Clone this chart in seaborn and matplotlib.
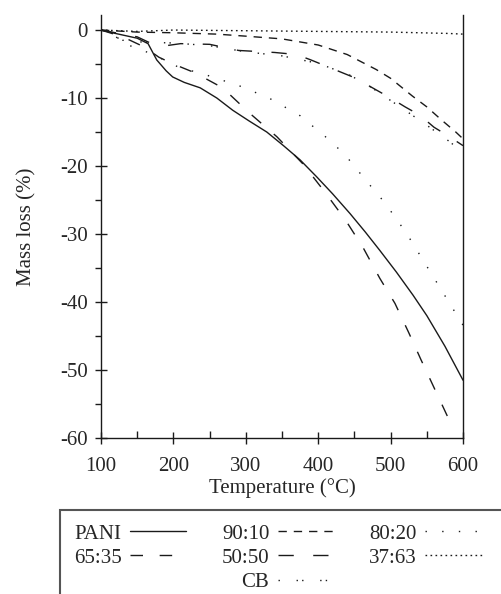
import numpy as np
import pandas as pd
import matplotlib
matplotlib.use('Agg')
import matplotlib.pyplot as plt
from matplotlib.lines import Line2D
from matplotlib.patches import Rectangle
import seaborn as sns

sns.set_style('ticks')
plt.rcParams['font.family'] = ['Liberation Serif', 'DejaVu Serif']
plt.rcParams['axes.unicode_minus'] = False  # hyphen minus like the original
plt.rcParams['font.size'] = 15

# 시료별 질량 감소 곡선
pani_t = [100, 120, 150, 165, 177, 190, 199, 215, 237, 260, 282, 305, 329, 352, 375, 398, 420, 444, 465, 485, 508, 531, 550, 575, 600]
pani_m = [0, -0.5, -1.2, -2.0, -4.4, -6.0, -6.9, -7.7, -8.5, -10.0, -11.8, -13.4, -15.0, -17.0, -19.1, -21.6, -24.1, -27.0, -29.7, -32.4, -35.6, -39.0, -42.0, -46.5, -51.5]

s9010_t = [100, 150, 200, 260, 300, 350, 400, 440, 460, 480, 500, 530, 550, 570, 590, 600]
s9010_m = [0, -0.3, -0.4, -0.6, -0.9, -1.3, -2.2, -3.6, -4.7, -5.8, -7.1, -9.7, -11.3, -13.2, -15.0, -16.0]

s8020_t = [100, 130, 140, 170, 206, 248, 291, 332, 375, 418, 439, 465, 492, 522, 548, 574, 600]
s8020_m = [0, -1.5, -2.3, -3.5, -5.4, -6.7, -8.2, -10.0, -12.6, -16.4, -18.6, -22.0, -25.4, -29.9, -34.4, -38.9, -43.4]

s6535_t = [100, 130, 160, 180, 200, 230, 268, 305, 343, 379, 409, 438, 462, 485, 506, 525, 542, 560, 578, 585]
s6535_m = [0, -1.0, -2.5, -4.0, -5.0, -6.3, -8.5, -12.2, -15.7, -19.7, -23.8, -28.0, -32.0, -36.5, -40.2, -44.5, -48.5, -52.6, -56.7, -58.0]

s5050_t = [100, 150, 170, 190, 210, 250, 290, 340, 370, 390, 420, 450, 475, 500, 520, 540, 560, 580, 600]
s5050_m = [0, -1.0, -2.0, -2.3, -2.0, -2.1, -3.0, -3.3, -3.6, -4.4, -5.7, -7.0, -8.5, -10.0, -11.3, -12.5, -14.3, -15.6, -17.0]

s3763_t = [100, 150, 200, 300, 400, 500, 580, 600]
s3763_m = [0, -0.2, 0, -0.1, -0.2, -0.3, -0.5, -0.6]

cb_t = [100, 130, 160, 200, 250, 300, 350, 400, 443, 470, 495, 520, 550, 580, 600]
cb_m = [0, -1.5, -1.8, -1.9, -2.3, -3.2, -3.8, -4.9, -6.6, -8.2, -10.0, -11.8, -14.0, -16.3, -18.0]

series = [
    ('PANI', pani_t, pani_m, '-'),
    ('90:10', s9010_t, s9010_m, (0, (6, 5))),
    ('80:20', s8020_t, s8020_m, (0, (1, 11))),
    ('65:35', s6535_t, s6535_m, (0, (9, 12))),
    ('50:50', s5050_t, s5050_m, (0, (11, 14))),
    ('37:63', s3763_t, s3763_m, (0, (1.2, 2.4))),
    ('CB', cb_t, cb_m, (0, (1, 12, 1, 3))),
]

fig = plt.figure(figsize=(5.01, 5.94), dpi=100)
ax = fig.add_axes([0.2016, 0.2626, 0.7226, 0.712])

handles = {}
for name, t, m, ls in series:
    sns.lineplot(x=t, y=m, ax=ax, color='#1a1a1a', lw=1.0, linestyle=ls, sort=False)
    handles[name] = ax.get_lines()[-1]

ax.set_xlim(100, 600)
ax.set_ylim(-60, 2.2)
ax.set_xticks(np.arange(100, 601, 100))
ax.set_xticks(np.arange(150, 600, 100), minor=True)
ax.set_yticks(np.arange(-60, 1, 10))
ax.set_yticks(np.arange(-55, 0, 10), minor=True)
ax.spines['top'].set_visible(False)
for s in ['left', 'right', 'bottom']:
    ax.spines[s].set_linewidth(1.0)
    ax.spines[s].set_color('#1a1a1a')
ax.tick_params(which='major', direction='inout', length=9, width=1, color='#1a1a1a', pad=5)
ax.tick_params(axis='x', which='major', pad=9)
ax.tick_params(which='minor', direction='in', length=5, width=1, color='#1a1a1a')
ax.tick_params(axis='y', which='minor', direction='out', length=4)
ax.set_xlabel('Temperature (°C)', labelpad=2)
ax.set_ylabel('Mass loss (%)', labelpad=17)

# 범례 상자
fig.patches.append(Rectangle((60 / 501, -0.5), 1.2, 0.5 + 1 - 510 / 594, transform=fig.transFigure,
                             fill=False, lw=1.5, edgecolor='#555555'))
blank = Line2D([], [], linestyle='none')
order = [handles['PANI'], handles['65:35'], blank,
         handles['90:10'], handles['50:50'], handles['CB'],
         handles['80:20'], handles['37:63'], blank]
labels = ['PANI', '65:35', '', '90:10', '50:50', 'CB', '80:20', '37:63', '']
fig.legend(order, labels, ncol=3, loc='upper left', bbox_to_anchor=(74 / 501, 1 - 524 / 594),
           frameon=False, markerfirst=False, handlelength=2.7, handletextpad=0.4,
           columnspacing=1.7, labelspacing=0.22, borderpad=0, borderaxespad=0)

fig.savefig('out.png', dpi=100)
